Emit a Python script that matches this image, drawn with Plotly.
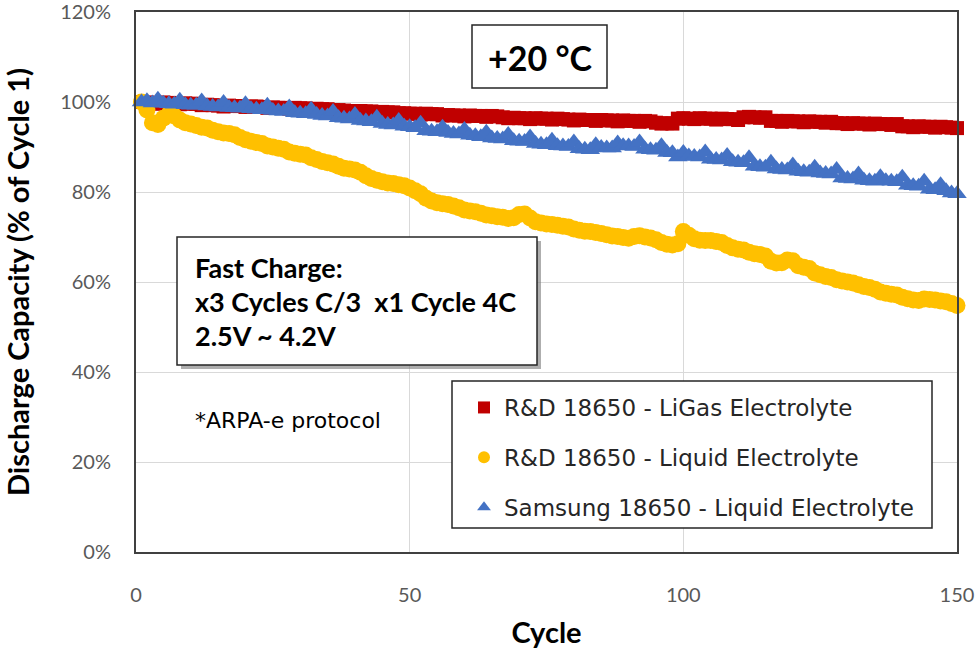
import plotly.graph_objects as go

cycles = list(range(1, 151))

red_ligas = [
    100.0, 99.9, 99.8, 99.6, 99.9, 99.8, 99.7, 99.5, 99.7, 99.6, 99.6, 99.3,
    99.4, 99.3, 99.2, 99.0, 99.2, 99.1, 99.1, 98.9, 99.0, 99.0, 98.9, 98.7,
    98.8, 98.7, 98.7, 98.5, 98.7, 98.6, 98.6, 98.3, 98.5, 98.4, 98.4, 98.2,
    98.2, 98.1, 98.0, 97.8, 98.0, 97.9, 97.9, 97.6, 97.8, 97.7, 97.7, 97.5,
    97.5, 97.4, 97.4, 97.2, 97.4, 97.3, 97.3, 97.0, 97.1, 97.0, 97.0, 96.8,
    97.0, 96.9, 96.9, 96.7, 96.9, 96.8, 96.6, 96.4, 96.5, 96.4, 96.4, 96.2,
    96.4, 96.3, 96.3, 96.1, 96.3, 96.2, 96.1, 95.9, 96.1, 96.0, 96.0, 95.8,
    96.0, 95.9, 95.9, 95.7, 95.9, 95.8, 95.8, 95.6, 95.8, 95.7, 95.4, 95.2,
    95.3, 95.2, 96.3, 96.4, 96.3, 96.2, 96.4, 96.3, 96.3, 96.1, 96.3, 96.2,
    96.2, 96.0, 96.6, 96.7, 96.6, 96.5, 96.6, 95.8, 95.8, 95.6, 95.8, 95.7,
    95.7, 95.5, 95.7, 95.6, 95.6, 95.4, 95.6, 95.3, 95.3, 95.1, 95.3, 95.2,
    95.2, 95.0, 95.2, 95.1, 95.1, 94.9, 95.1, 94.6, 94.6, 94.4, 94.6, 94.5,
    94.5, 94.3, 94.5, 94.4, 94.3, 94.2,
]

yellow_liquid = [
    100.0, 98.2, 95.4, 95.0, 96.4, 97.2, 96.9, 96.0,
    95.4, 95.1, 94.8, 94.4, 94.2, 93.7, 93.4, 93.1, 93.0, 92.7,
    92.1, 91.6, 91.3, 91.0, 90.8, 90.2, 90.0, 89.7, 89.5, 88.9,
    88.6, 88.4, 88.2, 87.6, 87.2, 86.8, 86.5, 86.2, 85.7, 85.3,
    85.1, 84.9, 84.4, 83.6, 83.0, 82.6, 82.3, 82.0, 81.9, 81.6,
    81.4, 80.9, 80.3, 79.6, 78.6, 78.0, 77.6, 77.4, 77.2, 76.9,
    76.5, 76.0, 75.8, 75.6, 75.3, 74.9, 74.7, 74.5, 74.4, 74.1,
    74.3, 75.0, 75.1, 74.2, 73.4, 73.1, 72.9, 72.8, 72.6, 72.4,
    72.2, 71.8, 71.5, 71.3, 71.2, 71.0, 70.8, 70.5, 70.2, 70.1,
    69.9, 69.7, 70.1, 70.3, 70.0, 69.8, 69.4, 68.8, 68.4, 68.2,
    68.5, 71.2, 70.4, 69.6, 69.3, 69.2, 69.2, 69.0, 68.8, 68.1,
    67.6, 67.3, 67.1, 66.6, 66.3, 66.1, 65.8, 64.6, 64.2, 64.3,
    64.9, 64.7, 63.6, 63.3, 63.0, 62.0, 61.6, 61.2, 61.0, 60.5,
    60.2, 60.0, 59.8, 59.4, 59.0, 58.8, 58.4, 57.8, 57.5, 57.3,
    57.1, 56.6, 56.3, 56.0, 55.9, 56.2, 56.1, 56.0, 55.8, 55.6,
    55.2, 54.8,
]

blue_samsung = [
    100.0, 100.3, 99.8, 100.6,
    99.7, 99.6, 99.5, 100.4, 99.4, 99.3, 99.3, 100.2,
    99.1, 99.0, 98.9, 99.9, 98.8, 98.7, 98.6, 99.6, 98.5, 98.4, 98.3, 99.3,
    98.1, 98.0, 97.9, 98.9, 97.6, 97.5, 97.4, 98.4, 97.2, 97.0, 96.9, 97.9,
    96.5, 96.4, 96.2, 97.2, 95.9, 95.8, 95.6, 96.6, 95.2, 95.0, 94.9, 95.9,
    94.6, 94.5, 94.3, 95.3, 93.6, 93.5, 93.4, 94.4, 93.2, 93.0, 92.9, 93.9,
    92.6, 92.5, 92.3, 93.3, 92.0, 91.9, 91.8, 92.8, 91.4, 91.3, 91.2, 92.2,
    90.8, 90.6, 90.5, 91.5, 90.3, 90.2, 90.1, 91.1, 89.6, 89.5, 89.4, 90.5,
    89.9, 89.8, 89.8, 90.9, 90.3, 90.2, 90.1, 91.1, 89.5, 89.4, 89.3, 90.3,
    88.8, 88.7, 87.8, 88.8, 88.0, 87.9, 87.8, 88.9, 87.3, 87.2, 87.1, 88.1,
    86.7, 86.6, 86.5, 87.6, 85.7, 85.6, 85.5, 86.6, 85.1, 85.0, 84.9, 86.0,
    84.6, 84.5, 84.4, 85.5, 84.2, 84.1, 84.0, 85.0, 83.1, 83.0, 82.9, 84.0,
    82.6, 82.5, 82.4, 83.4, 82.5, 82.4, 82.3, 83.3, 81.5, 81.4, 81.3, 82.4,
    80.6, 80.5, 81.6, 80.3, 79.8, 79.6,
]

series_names = [
    "R&D 18650 - LiGas Electrolyte",
    "R&D 18650 - Liquid Electrolyte",
    "Samsung 18650 - Liquid Electrolyte",
]
x_ticks = [0, 50, 100, 150]
y_ticks = [0, 20, 40, 60, 80, 100, 120]
y_tick_labels = ["0%", "20%", "40%", "60%", "80%", "100%", "120%"]

L, R, T, B = 136, 20, 12, 102
W, H = 977, 654
PW, PH = W - L - R, H - T - B


def px(x):
    return (x - L) / PW


def py(y):
    return (H - B - y) / PH


fig = go.Figure()
fig.add_trace(go.Scatter(
    x=cycles, y=red_ligas, mode="markers", name=series_names[0],
    legendgroup="a", cliponaxis=False,
    marker=dict(symbol="square", size=14, color="#C00000")))
fig.add_trace(go.Scatter(
    x=cycles, y=yellow_liquid, mode="markers", name=series_names[1],
    legendgroup="b", cliponaxis=False,
    marker=dict(symbol="circle", size=17, color="#FFC000")))
fig.add_trace(go.Scatter(
    x=cycles, y=blue_samsung, mode="markers", name=series_names[2],
    legendgroup="c", cliponaxis=False,
    marker=dict(symbol="triangle-up", size=17, color="#4472C4")))

tickfont = dict(family="Lato", size=20, color="#595959")
titlefont = dict(family="Lato", size=29, color="#000000", weight="bold")

fig.update_layout(
    width=W, height=H,
    margin=dict(l=L, r=R, t=T, b=B, autoexpand=False),
    paper_bgcolor="white", plot_bgcolor="white",
    showlegend=True,
    legend=dict(
        x=px(464), y=py(386), xanchor="left", yanchor="top",
        bgcolor="rgba(0,0,0,0)", borderwidth=0,
        font=dict(family="DejaVu Sans", size=23, color="#262626"),
        tracegroupgap=17, traceorder="grouped", itemsizing="constant",
    ),
    xaxis=dict(
        range=[0, 150], tickmode="array", tickvals=x_ticks,
        ticktext=[str(v) for v in x_ticks], showgrid=True,
        gridcolor="#D9D9D9", gridwidth=1, zeroline=False, showline=True,
        linecolor="#404040", linewidth=2, mirror=True, ticks="",
        ticklabelstandoff=24, tickfont=tickfont,
        title=dict(text="Cycle", font=titlefont, standoff=18),
    ),
    yaxis=dict(
        range=[0, 120], tickmode="array", tickvals=y_ticks,
        ticktext=y_tick_labels, showgrid=True, ticklabeloverflow="allow",
        gridcolor="#D9D9D9", gridwidth=1, zeroline=False, showline=True,
        linecolor="#404040", linewidth=2, mirror=True, ticks="",
        ticklabelstandoff=19, tickfont=tickfont,
        title=dict(text="Discharge Capacity (% of Cycle 1)", font=titlefont,
                   standoff=22),
    ),
)

shapes = []
# +20 °C box
shapes.append(dict(type="rect", xref="paper", yref="paper",
                   x0=px(472), x1=px(607), y0=py(88), y1=py(25),
                   line=dict(color="#262626", width=1.5), fillcolor="white"))
# Fast charge box shadow and box
shapes.append(dict(type="rect", xref="paper", yref="paper",
                   x0=px(181), x1=px(541), y0=py(369), y1=py(241),
                   line=dict(width=0), fillcolor="rgba(120,120,120,0.6)"))
shapes.append(dict(type="rect", xref="paper", yref="paper",
                   x0=px(177), x1=px(537), y0=py(365), y1=py(237),
                   line=dict(color="#262626", width=1.5), fillcolor="white"))
# legend box
shapes.append(dict(type="rect", xref="paper", yref="paper",
                   x0=px(452), x1=px(932), y0=py(528), y1=py(381),
                   line=dict(color="#262626", width=1.5), fillcolor="white"))
fig.update_layout(shapes=shapes)

bold = dict(family="Lato", size=27, color="#000000", weight="bold")
annotations = [
    dict(text="+20 °C", x=px(540), y=py(57), xref="paper", yref="paper",
         showarrow=False, xanchor="center", yanchor="middle",
         font=dict(family="Lato", size=34, color="#000000", weight="bold")),
    dict(text="Fast Charge:", x=px(193), y=py(267), xref="paper", yref="paper",
         showarrow=False, xanchor="left", yanchor="middle", font=bold),
    dict(text="x3 Cycles C/3  x1 Cycle 4C", x=px(193), y=py(302),
         xref="paper", yref="paper", showarrow=False, xanchor="left",
         yanchor="middle", font=bold),
    dict(text="2.5V ~ 4.2V", x=px(193), y=py(335), xref="paper", yref="paper",
         showarrow=False, xanchor="left", yanchor="middle", font=bold),
    dict(text="*ARPA-e protocol", x=px(193), y=py(420), xref="paper",
         yref="paper", showarrow=False, xanchor="left", yanchor="middle",
         font=dict(family="DejaVu Sans", size=22, color="#000000")),
]
fig.update_layout(annotations=annotations)

fig.write_html("out.html")
